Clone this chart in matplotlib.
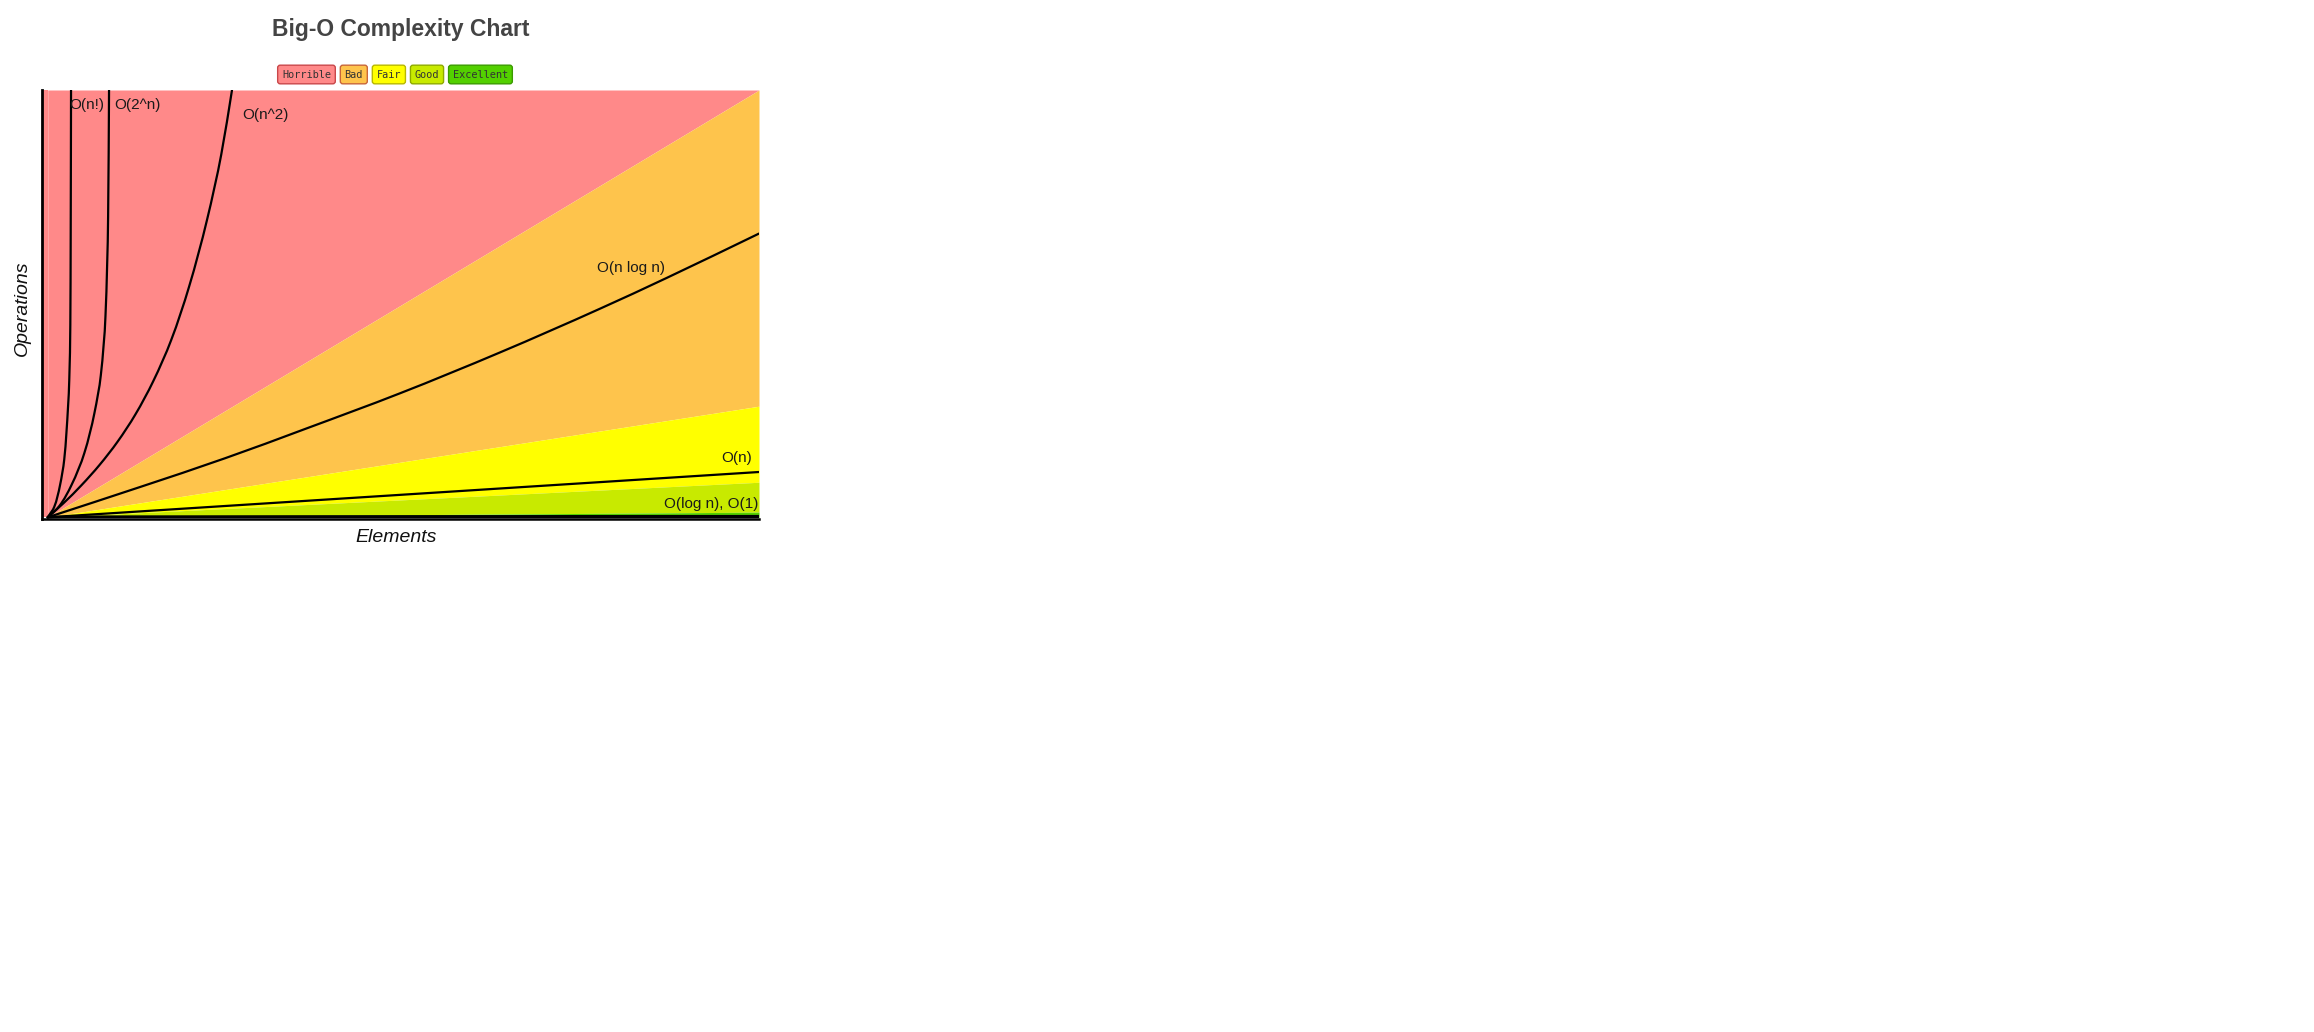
import matplotlib
matplotlib.use("Agg")
import matplotlib.pyplot as plt
from matplotlib.path import Path
from matplotlib.patches import PathPatch
import numpy as np

# ---------------- data ----------------
categories = ["Horrible", "Bad", "Fair", "Good", "Excellent"]
region_colors = ["#ff8989", "#fec44c", "#ffff00", "#c8ea00", "#53d000"]
legend_edges = ["#c9474a", "#c8663a", "#b8b800", "#8eaa00", "#3b9a00"]

# region boundaries: straight lines from the origin, value at right edge
boundary_x = [0.8, 100.0]
bad_top = [0.0, 100.0]       # Horrible / Bad
fair_top = [0.0, 26.0]       # Bad / Fair
good_top = [0.0, 8.2]        # Fair / Good
excellent_top = [0.0, 1.2]   # Good / Excellent

# complexity curves
fact_x = [0.8, 1.7, 2.5, 3.1, 3.4, 3.8, 3.95, 4.0, 4.05]
fact_y = [0.0, 2.4, 7.4, 13.5, 19.6, 32.0, 45.0, 65.0, 100.0]

exp_x = [0.8, 2.4, 4.1, 5.9, 7.3, 8.2, 8.85, 9.22, 9.35]
exp_y = [0.0, 2.6, 7.5, 15.0, 24.3, 33.2, 47.0, 70.3, 100.0]

sq_x = [0.8, 3.0, 5.5, 8.0, 10.5, 13.0, 15.5, 18.0, 20.5, 23.0, 25.0, 26.5]
sq_y = [0.0, 3.3, 7.5, 12.2, 17.6, 24.0, 31.8, 41.4, 53.9, 69.5, 84.9, 100.0]

nlogn_x = [0.8, 13.7, 25.5, 36.9, 49.9, 63.9, 77.8, 87.1, 100.0]
nlogn_y = [0.0, 7.1, 13.8, 20.8, 29.0, 38.6, 48.8, 56.0, 66.4]

lin_x = [0.8, 100.0]
lin_y = [0.0, 10.6]

log_x = [0.8, 5.0, 20.0, 50.0, 100.0]
log_y = [0.0, 0.15, 0.2, 0.25, 0.3]

const_x = [0.8, 100.0]
const_y = [0.0, 0.0]

curve_labels = ["O(n!)", "O(2^n)", "O(n^2)", "O(n log n)", "O(n)", "O(log n), O(1)"]
label_x = [6.2, 13.3, 31.2, 82.1, 96.9, 93.3]
label_y = [96.5, 96.5, 94.1, 58.3, 13.8, 3.0]

title = "Big-O Complexity Chart"
xlabel = "Elements"
ylabel = "Operations"


# smooth drawing of the read points (monotone cubic, drawn as Bezier path)
def smooth_path(xs, ys, by="x"):
    xs = np.asarray(xs, float)
    ys = np.asarray(ys, float)
    if by == "x":
        u, v = xs, ys
    else:
        u, v = ys, xs
    n = len(u)
    if n < 3:
        verts = list(zip(xs, ys))
        return Path(verts, [Path.MOVETO] + [Path.LINETO] * (n - 1))
    h = np.diff(u)
    d = np.diff(v) / h
    m = np.zeros(n)
    m[0] = d[0]
    m[-1] = d[-1]
    for k in range(1, n - 1):
        if d[k - 1] * d[k] <= 0:
            m[k] = 0.0
        else:
            w1 = 2 * h[k] + h[k - 1]
            w2 = h[k] + 2 * h[k - 1]
            m[k] = (w1 + w2) / (w1 / d[k - 1] + w2 / d[k])
    verts = [(u[0], v[0])]
    codes = [Path.MOVETO]
    for k in range(n - 1):
        c1 = (u[k] + h[k] / 3, v[k] + m[k] * h[k] / 3)
        c2 = (u[k + 1] - h[k] / 3, v[k + 1] - m[k + 1] * h[k] / 3)
        verts += [c1, c2, (u[k + 1], v[k + 1])]
        codes += [Path.CURVE4] * 3
    if by != "x":
        verts = [(b, a) for a, b in verts]
    return Path(verts, codes)


# ---------------- figure ----------------
W, H = 2314, 1032
fig = plt.figure(figsize=(W / 100, H / 100), dpi=100)
fig.patch.set_facecolor("white")


def fx(px):
    return px / W


def fy(py):
    return 1 - py / H


ax = fig.add_axes([fx(42), fy(519), (759 - 42) / W, (519 - 90) / H])
ax.set_xlim(0, 100)
ax.set_ylim(-0.4, 100)

bx = np.array(boundary_x)
top = np.array([100.0, 100.0])
layers = [bad_top, fair_top, good_top, excellent_top, [0.0, 0.0]]
upper = [top] + [np.array(l) for l in layers[:-1]]
lower = [np.array(l) for l in layers]
for col, up, lo in zip(region_colors, upper, lower):
    ax.fill_between(bx, lo, up, color=col, linewidth=0)
ax.fill_between([0, 0.8], [0, 0], [100, 100], color=region_colors[0], linewidth=0)

lw = 1.6
curves = [(fact_x, fact_y, "y"), (exp_x, exp_y, "y"), (sq_x, sq_y, "y"),
          (nlogn_x, nlogn_y, "x"), (lin_x, lin_y, "x"), (log_x, log_y, "x"),
          (const_x, const_y, "x")]
for xs, ys, by in curves:
    p = smooth_path(xs, ys, by)
    ax.add_patch(PathPatch(p, fill=False, edgecolor="black", lw=lw,
                           capstyle="round", joinstyle="round"))

for t, x, y in zip(curve_labels, label_x, label_y):
    ax.text(x, y, t, ha="center", va="center", fontsize=11,
            family="Liberation Sans", color="#1a1a1a")

for s in ["top", "right"]:
    ax.spines[s].set_visible(False)
ax.spines["left"].set_linewidth(2.0)
ax.spines["bottom"].set_linewidth(1.8)
ax.spines["left"].set_color("black")
ax.spines["bottom"].set_color("black")
ax.set_xticks([])
ax.set_yticks([])

# titles / axis labels
fig.text(fx(400.8), fy(29.5), title, ha="center", va="center",
         fontsize=16.5, fontweight="bold", family="Liberation Sans",
         color="#444444")
fig.text(fx(396), fy(537), xlabel, ha="center", va="center", fontsize=14,
         style="italic", family="Liberation Sans", color="#111111")
fig.text(fx(22), fy(308), ylabel, ha="center", va="center", fontsize=14,
         style="italic", family="Liberation Sans", color="#111111",
         rotation=90)

# legend boxes
renderer = fig.canvas.get_renderer()
fs = 7.4
pad = 0.42
pad_px = pad * fs * 100 / 72
gap = 5.0
texts = []
widths = []
for lab, col, ec in zip(categories, region_colors, legend_edges):
    t = fig.text(0, fy(74.5), lab, ha="center", va="center", fontsize=fs,
                 family="DejaVu Sans Mono", color="#333333",
                 bbox=dict(boxstyle=f"round,pad={pad},rounding_size=0.25",
                           fc=col, ec=ec, lw=1.0))
    texts.append(t)
    widths.append(t.get_window_extent(renderer).width + 2 * pad_px)
total = sum(widths) + gap * (len(widths) - 1)
x = 395.0 - total / 2
for t, w in zip(texts, widths):
    t.set_x(fx(x + w / 2))
    x += w + gap

fig.savefig("out.png", dpi=100, facecolor="white")
